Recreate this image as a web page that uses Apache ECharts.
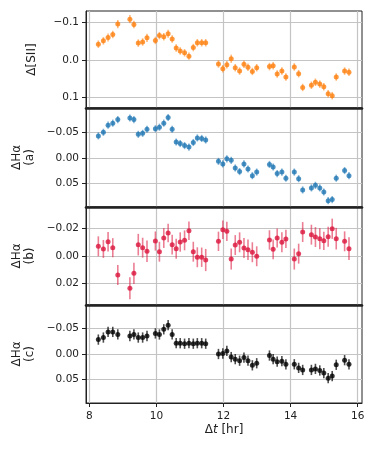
<!DOCTYPE html>
<html>
<head>
<meta charset="utf-8">
<script src="https://cdn.jsdelivr.net/npm/echarts@6/dist/echarts.min.js"></script>
<style>
  html, body { margin: 0; padding: 0; background: #fff; }
  #chart { width: 374px; height: 449px; }
</style>
</head>
<body>
<div id="chart"></div>
<script>
// shared time axis [hr]
const times = [8.27, 8.42, 8.56, 8.70, 8.85, 9.21, 9.33, 9.46, 9.59, 9.72,
  9.97, 10.09, 10.22, 10.35, 10.47, 10.59, 10.71, 10.84, 10.97, 11.10,
  11.22, 11.35, 11.47, 11.85, 11.98, 12.10, 12.23, 12.35, 12.48, 12.61,
  12.73, 12.86, 12.99, 13.37, 13.48, 13.60, 13.74, 13.86, 14.11, 14.24,
  14.36, 14.62, 14.74, 14.87, 14.99, 15.12, 15.24, 15.36, 15.61, 15.74];

const sii = [-0.042, -0.051, -0.060, -0.068, -0.096, -0.109, -0.095, -0.045, -0.048, -0.059,
  -0.052, -0.065, -0.062, -0.070, -0.056, -0.032, -0.024, -0.019, -0.010, -0.033,
  -0.046, -0.046, -0.046, 0.011, 0.024, 0.013, -0.003, 0.021, 0.030, 0.012,
  0.020, 0.031, 0.021, 0.018, 0.016, 0.038, 0.030, 0.046, 0.019, 0.037,
  0.074, 0.068, 0.060, 0.065, 0.072, 0.091, 0.096, 0.046, 0.030, 0.033];
const siiErr = [0.010, 0.010, 0.011, 0.010, 0.011, 0.011, 0.010, 0.010, 0.010, 0.011,
  0.010, 0.010, 0.010, 0.011, 0.010, 0.010, 0.010, 0.010, 0.010, 0.010,
  0.010, 0.010, 0.010, 0.010, 0.010, 0.010, 0.011, 0.010, 0.010, 0.010,
  0.010, 0.010, 0.010, 0.010, 0.010, 0.010, 0.010, 0.010, 0.010, 0.010,
  0.010, 0.010, 0.010, 0.010, 0.010, 0.010, 0.010, 0.010, 0.010, 0.010];

const haA = [-0.043, -0.050, -0.064, -0.068, -0.075, -0.078, -0.075, -0.046, -0.048, -0.056,
  -0.057, -0.060, -0.068, -0.079, -0.056, -0.031, -0.028, -0.024, -0.021, -0.030,
  -0.039, -0.038, -0.035, 0.007, 0.012, 0.002, 0.005, 0.020, 0.027, 0.012,
  0.022, 0.035, 0.028, 0.013, 0.018, 0.031, 0.028, 0.040, 0.028, 0.041,
  0.063, 0.059, 0.054, 0.059, 0.067, 0.084, 0.082, 0.040, 0.025, 0.035];
const haAErr = [0.007, 0.007, 0.007, 0.007, 0.007, 0.007, 0.007, 0.007, 0.007, 0.007,
  0.007, 0.007, 0.007, 0.007, 0.007, 0.007, 0.007, 0.007, 0.007, 0.007,
  0.007, 0.007, 0.007, 0.007, 0.007, 0.007, 0.007, 0.007, 0.007, 0.007,
  0.007, 0.007, 0.007, 0.007, 0.007, 0.007, 0.007, 0.007, 0.007, 0.007,
  0.007, 0.007, 0.007, 0.007, 0.007, 0.007, 0.007, 0.007, 0.007, 0.007];

const haB = [-0.0070, -0.0051, -0.0103, -0.0060, 0.0137, 0.0233, 0.0125, -0.0082, -0.0060, -0.0034,
  -0.0108, -0.0031, -0.0130, -0.0166, -0.0082, -0.0053, -0.0101, -0.0113, -0.0183, -0.0031,
  0.0009, 0.0009, 0.0029, -0.0106, -0.0190, -0.0178, 0.0022, -0.0079, -0.0099, -0.0058,
  -0.0045, -0.0027, 0.0002, -0.0116, -0.0048, -0.0130, -0.0099, -0.0123, 0.0022, -0.0017,
  -0.0173, -0.0154, -0.0137, -0.0125, -0.0110, -0.0139, -0.0197, -0.0125, -0.0106, -0.0053];
const haBErr = [0.0072, 0.0065, 0.0070, 0.0069, 0.0072, 0.0080, 0.0077, 0.0078, 0.0072, 0.0078,
  0.0069, 0.0072, 0.0072, 0.0067, 0.0072, 0.0072, 0.0070, 0.0072, 0.0067, 0.0072,
  0.0072, 0.0070, 0.0080, 0.0070, 0.0067, 0.0070, 0.0076, 0.0072, 0.0072, 0.0072,
  0.0074, 0.0072, 0.0072, 0.0070, 0.0072, 0.0069, 0.0072, 0.0066, 0.0076, 0.0072,
  0.0072, 0.0072, 0.0072, 0.0076, 0.0066, 0.0072, 0.0073, 0.0078, 0.0072, 0.0082];

const haC = [-0.028, -0.032, -0.043, -0.043, -0.038, -0.035, -0.038, -0.032, -0.032, -0.035,
  -0.040, -0.038, -0.048, -0.056, -0.038, -0.021, -0.021, -0.020, -0.021, -0.020,
  -0.021, -0.021, -0.020, 0.000, -0.001, -0.006, 0.006, 0.010, 0.013, 0.007,
  0.013, 0.022, 0.018, 0.003, 0.010, 0.015, 0.014, 0.020, 0.020, 0.027,
  0.031, 0.031, 0.029, 0.032, 0.037, 0.047, 0.043, 0.021, 0.012, 0.020];
const haCErr = [0.010, 0.010, 0.010, 0.010, 0.010, 0.010, 0.010, 0.010, 0.010, 0.010,
  0.010, 0.010, 0.010, 0.010, 0.010, 0.010, 0.010, 0.010, 0.010, 0.010,
  0.010, 0.010, 0.010, 0.010, 0.010, 0.010, 0.010, 0.010, 0.010, 0.010,
  0.010, 0.010, 0.010, 0.010, 0.010, 0.010, 0.010, 0.010, 0.010, 0.010,
  0.010, 0.010, 0.010, 0.010, 0.010, 0.010, 0.010, 0.010, 0.010, 0.010];

const xTicks = [8, 10, 12, 14, 16];
const siiTicks = [-0.1, 0.0, 0.1];
const haATicks = [-0.05, 0.0, 0.05];
const haBTicks = [-0.02, 0.0, 0.02];
const haCTicks = [-0.05, 0.0, 0.05];

const FONT = "DejaVu Sans";

const panels = [
  { name: "Δ[SII]", y: sii, err: siiErr, ticks: siiTicks, dec: 1, min: -0.131, max: 0.129,
    color: "#ff7f0e", errColor: "rgba(255,127,14,0.55)", top: 11, height: 97, gap: 48 },
  { name: "ΔHα\n(a)", y: haA, err: haAErr, ticks: haATicks, dec: 2, min: -0.0977, max: 0.0965,
    color: "#1f77b4", errColor: "rgba(31,119,180,0.55)", top: 108, height: 99, gap: 38 },
  { name: "ΔHα\n(b)", y: haB, err: haBErr, ticks: haBTicks, dec: 2, min: -0.0354, max: 0.0354,
    color: "#dc143c", errColor: "rgba(220,20,60,0.55)", top: 207, height: 98, gap: 38 },
  { name: "ΔHα\n(c)", y: haC, err: haCErr, ticks: haCTicks, dec: 2, min: -0.0953, max: 0.0953,
    color: "#000000", errColor: "rgba(0,0,0,0.7)", top: 305, height: 98, gap: 38 },
];

function fmt(v, dec) {
  return Number(v).toFixed(dec).replace("-", "\u2212");
}

function errorBars(params, api) {
  const x = api.value(0);
  const y = api.value(1);
  const e = api.value(2);
  const p1 = api.coord([x, y - e]);
  const p2 = api.coord([x, y + e]);
  return {
    type: "line",
    shape: { x1: p1[0], y1: p1[1], x2: p2[0], y2: p2[1] },
    style: { stroke: api.visual("color"), lineWidth: 1.6 },
  };
}

const grids = [];
const xAxes = [];
const yAxes = [];
const series = [];

panels.forEach((p, i) => {
  const last = i === panels.length - 1;
  grids.push({
    left: 86, right: 12, top: p.top, height: p.height,
    show: true, borderColor: "#222", borderWidth: 1,
  });
  xAxes.push({
    type: "value", gridIndex: i, min: 7.902, max: 16.128,
    axisLine: { show: true, onZero: false, lineStyle: { color: "#222", width: last ? 1 : 2.6 } },
    axisTick: { show: last, customValues: xTicks, length: 4, lineStyle: { color: "#222" } },
    axisLabel: {
      show: last, customValues: xTicks, margin: 8,
      fontFamily: FONT, fontSize: 10.5, color: "#222",
    },
    splitLine: { show: true, lineStyle: { color: "#c4c4c4", width: 1.2 } },
    name: last ? "Δ{i|t} [hr]" : "",
    nameLocation: "middle", nameGap: 21,
    nameTextStyle: {
      fontFamily: FONT, fontSize: 12, color: "#222",
      rich: { i: { fontStyle: "italic", fontFamily: FONT, fontSize: 12, color: "#222" } },
    },
  });
  yAxes.push({
    type: "value", gridIndex: i, inverse: true, min: p.min, max: p.max,
    axisLine: { show: true, lineStyle: { color: "#222", width: 1 } },
    axisTick: { show: true, customValues: p.ticks, length: 4, lineStyle: { color: "#222" } },
    axisLabel: {
      customValues: p.ticks, margin: 7,
      fontFamily: FONT, fontSize: 10.5, color: "#222",
      formatter: (v) => fmt(v, p.dec),
    },
    splitLine: { show: true, lineStyle: { color: "#c4c4c4", width: 1.2 } },
    name: p.name, nameLocation: "middle", nameRotate: 90, nameGap: p.gap,
    nameTextStyle: { fontFamily: FONT, fontSize: 12, color: "#222", lineHeight: 13 },
  });
  const pts = times.map((t, k) => [t, p.y[k], p.err[k]]);
  series.push({
    type: "custom", xAxisIndex: i, yAxisIndex: i,
    renderItem: errorBars, data: pts,
    itemStyle: { color: p.errColor },
    encode: { x: 0, y: [1] },
    silent: true, z: 2,
  });
  series.push({
    type: "scatter", xAxisIndex: i, yAxisIndex: i,
    data: pts.map((d) => [d[0], d[1]]),
    symbol: "circle", symbolSize: 5,
    itemStyle: { color: p.color },
    silent: true, z: 3,
  });
});

const myChart = echarts.init(document.getElementById("chart"), null, { renderer: "canvas" });
myChart.setOption({
  animation: false,
  grid: grids,
  xAxis: xAxes,
  yAxis: yAxes,
  series: series,
});
</script>
</body>
</html>
